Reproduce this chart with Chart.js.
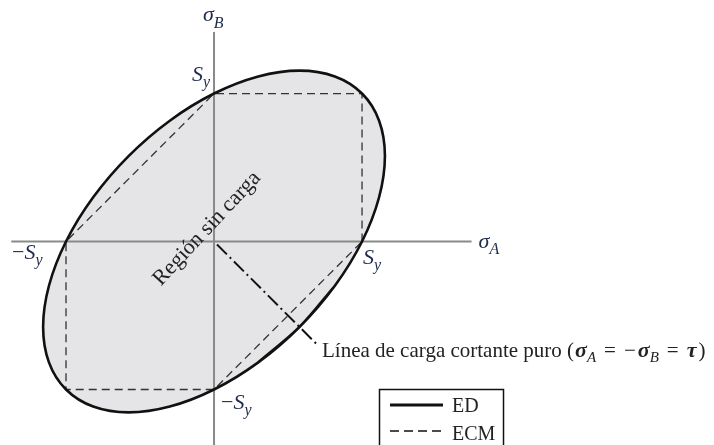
<!DOCTYPE html>
<html lang="es">
<head>
<meta charset="UTF-8">
<title>Envolventes de falla ED y ECM</title>
<script src="https://cdn.jsdelivr.net/npm/chart.js"></script>
<style>
  html, body { margin: 0; padding: 0; background: #fff; }
  #wrap { width: 714px; height: 445px; }
</style>
</head>
<body>
<div id="wrap"><canvas id="chart" width="714" height="445"></canvas></div>
<script>
// todos los esfuerzos en unidades de Sy
// elipse ED (energia de distorsion); repite 2 puntos para cerrar
const edA = [0.8165, 0.5774, 0.2989, 0, -0.2989, -0.5774, -0.8165, -1, -1.1153, -1.1547, -1.1153, -1,
             -0.8165, -0.5774, -0.2989, 0, 0.2989, 0.5774, 0.8165, 1, 1.1153, 1.1547, 1.1153, 1,
             0.8165, 0.5774, 0.2989];
const edB = [-0.2989, -0.5774, -0.8165, -1, -1.1153, -1.1547, -1.1153, -1, -0.8165, -0.5774, -0.2989, 0,
             0.2989, 0.5774, 0.8165, 1, 1.1153, 1.1547, 1.1153, 1, 0.8165, 0.5774, 0.2989, 0,
             -0.2989, -0.5774, -0.8165];
// hexagono ECM (esfuerzo cortante maximo)
const ecmA = [1, 1, 0, -1, -1, 0, 1];
const ecmB = [0, 1, 1, 0, -1, -1, 0];
// linea de carga cortante puro
const shearA = [0.02, 0.70];
const shearB = [-0.02, -0.70];
// ejes
const axisHA = [-1.37, 1.74];
const axisHB = [0, 0];
const axisVA = [0, 0];
const axisVB = [1.415, -1.5];
const tickVals = [1, -1];

function pts(xs, ys) {
  return xs.map((x, i) => ({ x: x, y: ys[i] }));
}

const SERIF = '"Liberation Serif", "DejaVu Serif", serif';
const TXT = '#222';
const LBL = '#1d2a4c';

function labelSub(ctx, x, y, pre, main, sub, size, color) {
  ctx.fillStyle = color;
  ctx.textAlign = 'left';
  ctx.textBaseline = 'alphabetic';
  let cx = x;
  if (pre) {
    ctx.font = size + 'px ' + SERIF;
    ctx.fillText(pre, cx, y);
    cx += ctx.measureText(pre).width;
  }
  ctx.font = 'italic ' + size + 'px ' + SERIF;
  ctx.fillText(main, cx, y);
  cx += ctx.measureText(main).width;
  ctx.font = 'italic ' + Math.round(size * 0.72) + 'px ' + SERIF;
  ctx.fillText(sub, cx, y + size * 0.3);
}

const textPlugin = {
  id: 'textos',
  afterDraw(chart) {
    const ctx = chart.ctx;
    const xs = chart.scales.x, ys = chart.scales.y;
    const x0 = xs.getPixelForValue(0), y0 = ys.getPixelForValue(0);
    const xp = xs.getPixelForValue(tickVals[0]), xn = xs.getPixelForValue(tickVals[1]);
    const yp = ys.getPixelForValue(tickVals[0]), yn = ys.getPixelForValue(tickVals[1]);
    ctx.save();

    // nombres de ejes
    labelSub(ctx, x0 - 11, 21, '', 'σ', 'B', 22, LBL);
    labelSub(ctx, xs.getPixelForValue(axisHA[1]) + 7, y0 + 6, '', 'σ', 'A', 22, LBL);

    // marcas Sy
    labelSub(ctx, x0 - 22, yp - 13, '', 'S', 'y', 22, LBL);
    labelSub(ctx, xp + 1, y0 + 22, '', 'S', 'y', 22, LBL);
    labelSub(ctx, xn - 54, y0 + 17, '−', 'S', 'y', 22, LBL);
    labelSub(ctx, x0 + 7, yn + 19, '−', 'S', 'y', 22, LBL);

    // texto girado
    ctx.save();
    ctx.translate(x0 - 7, y0 - 13);
    ctx.rotate(-47 * Math.PI / 180);
    ctx.font = '22px ' + SERIF;
    ctx.fillStyle = TXT;
    ctx.textAlign = 'center';
    ctx.textBaseline = 'middle';
    ctx.fillText('Región sin carga', 0, 0);
    ctx.restore();

    // rotulo de la linea de cortante puro
    let cx = 322;
    const by = 357;
    const parts = [
      ['Línea de carga cortante puro (', '21px', 0, 1],
      ['σ', 'italic bold 22px', 0, 0],
      ['A', 'italic 15px', 5, 8],
      ['=', '21px', 0, 8],
      ['−', '21px', 0, 2],
      ['σ', 'italic bold 22px', 0, 0],
      ['B', 'italic 15px', 5, 8],
      ['=', '21px', 0, 8],
      ['τ', 'italic bold 22px', 0, 2],
      [')', '21px', 0, 0]
    ];
    ctx.fillStyle = TXT;
    ctx.textAlign = 'left';
    ctx.textBaseline = 'alphabetic';
    parts.forEach(p => {
      ctx.font = p[1] + ' ' + SERIF;
      ctx.fillText(p[0], cx, by + p[2]);
      cx += ctx.measureText(p[0]).width + p[3];
    });

    // leyenda
    ctx.strokeStyle = '#111';
    ctx.lineWidth = 1.5;
    ctx.setLineDash([]);
    ctx.strokeRect(379.5, 389.5, 124, 70);
    ctx.lineWidth = 3;
    ctx.beginPath();
    ctx.moveTo(390, 405);
    ctx.lineTo(443, 405);
    ctx.stroke();
    ctx.lineWidth = 1.5;
    ctx.setLineDash([9, 5]);
    ctx.beginPath();
    ctx.moveTo(390, 431);
    ctx.lineTo(443, 431);
    ctx.stroke();
    ctx.setLineDash([]);
    ctx.font = '20px ' + SERIF;
    ctx.fillStyle = TXT;
    ctx.fillText('ED', 452, 412);
    ctx.fillText('ECM', 452, 440);

    ctx.restore();
  }
};

const ctx = document.getElementById('chart').getContext('2d');
const chart = new Chart(ctx, {
  type: 'scatter',
  data: {
    datasets: [
      { // relleno de la elipse
        data: pts(edA, edB), showLine: true, tension: 0.33, fill: 'shape',
        backgroundColor: '#e5e5e8', borderWidth: 0, borderColor: 'rgba(0,0,0,0)',
        pointRadius: 0, order: 6
      },
      { // eje horizontal
        data: pts(axisHA, axisHB), showLine: true, borderColor: '#8a8a8a', borderWidth: 2,
        pointRadius: 0, order: 5
      },
      { // eje vertical
        data: pts(axisVA, axisVB), showLine: true, borderColor: '#8a8a8a', borderWidth: 2,
        pointRadius: 0, order: 5
      },
      { // ECM
        data: pts(ecmA, ecmB), showLine: true, borderColor: '#333', borderWidth: 1.3,
        borderDash: [8, 5], pointRadius: 0, order: 3
      },
      { // cortante puro
        data: pts(shearA, shearB), showLine: true, borderColor: '#111', borderWidth: 2,
        borderDash: [14, 4, 2, 4], pointRadius: 0, order: 2
      },
      { // ED
        data: pts(edA, edB), showLine: true, tension: 0.33, fill: false,
        borderColor: '#111', borderWidth: 2.6, pointRadius: 0, order: 1
      }
    ]
  },
  options: {
    responsive: false,
    animation: false,
    devicePixelRatio: 1,
    layout: { padding: 0 },
    scales: {
      x: { type: 'linear', min: -1.446, max: 3.378, display: false },
      y: { type: 'linear', min: -1.375, max: 1.632, display: false }
    },
    plugins: {
      legend: { display: false },
      tooltip: { enabled: false }
    }
  },
  plugins: [textPlugin]
});
</script>
</body>
</html>
